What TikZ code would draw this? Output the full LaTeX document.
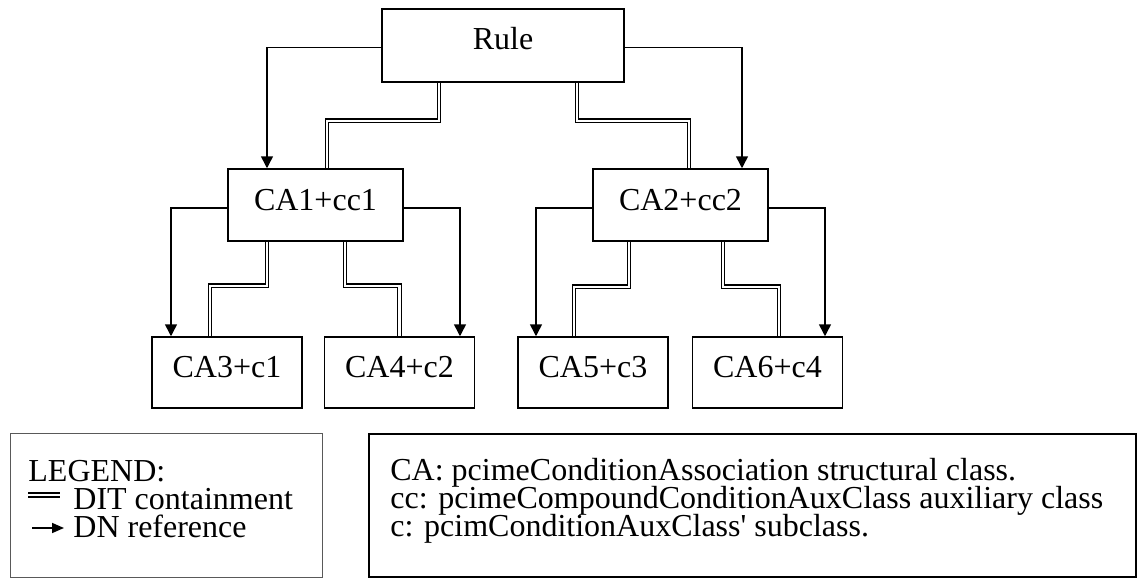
\documentclass[tikz,border=0pt]{standalone}
\usepackage{fontspec}
\setmainfont{Liberation Serif}[Ligatures=TeXOff]
\usetikzlibrary{arrows.meta}

\begin{document}
\begin{tikzpicture}[x=0.5pt,y=-0.5pt,
  every node/.style={font=\fontsize{16}{18}\selectfont},
  box/.style={draw, line width=0.75pt, inner sep=0pt, text height=10pt, text depth=5pt},
  rootbox/.style={box, minimum width=121pt, minimum height=36.5pt, text depth=6pt},
  midbox/.style={box, minimum width=87.5pt, minimum height=36pt},
  leafbox/.style={box, minimum width=75pt, minimum height=35.5pt},
  frame/.style={draw, inner sep=0pt, outer sep=0pt, anchor=north west},
  dn/.style={line width=0.75pt, -{Triangle[width=6pt,length=6pt]}},
  dnkey/.style={line width=0.8pt, -{Triangle[width=5pt,length=6pt]}},
  dit/.style={double, line width=0.65pt, double distance=1.1pt},
  txt/.style={anchor=base west, inner sep=0pt}
]
\useasboundingbox (0,0) rectangle (1137,578);

% class tree
\node[rootbox] (rule) at (503,45.5) {Rule};
\node[midbox]  (ca1)  at (315.5,205) {CA1+cc1};
\node[midbox]  (ca2)  at (680.5,205) {CA2+cc2};
\node[leafbox] (ca3)  at (227,372.5) {CA3+c1};
\node[leafbox] (ca4)  at (399.5,372.5) {CA4+c2};
\node[leafbox] (ca5)  at (593,372.5) {CA5+c3};
\node[leafbox] (ca6)  at (767.5,372.5) {CA6+c4};

% DN references
\draw[dn] ([yshift=-1pt]rule.west) -| ([xshift=-24.25pt]ca1.north);
\draw[dn] ([yshift=-1pt]rule.east) -| ([xshift=30.75pt]ca2.north);
\draw[dn] ([yshift=-1.5pt]ca1.west) -| ([xshift=-28pt]ca3.north);
\draw[dn] ([yshift=-1.5pt]ca1.east) -| ([xshift=30.25pt]ca4.north);
\draw[dn] ([yshift=-1.5pt]ca2.west) -| ([xshift=-28.5pt]ca5.north);
\draw[dn] ([yshift=-1.5pt]ca2.east) -| ([xshift=28.75pt]ca6.north);

% DIT containment
\draw[dit] ([xshift=-32pt]rule.south) -- ++(0,38) -| ([xshift=5.75pt]ca1.north);
\draw[dit] ([xshift=37pt]rule.south) -- ++(0,38) -| ([xshift=4.25pt]ca2.north);
\draw[dit] ([xshift=-24.25pt]ca1.south) -- ++(0,44) -| ([xshift=-8.5pt]ca3.north);
\draw[dit] ([xshift=14.75pt]ca1.south) -- ++(0,44) -| (ca4.north);
\draw[dit] ([xshift=-25.75pt]ca2.south) -- ++(0,45) -| ([xshift=-9.5pt]ca5.north);
\draw[dit] ([xshift=21.25pt]ca2.south) -- ++(0,45) -| ([xshift=5.75pt]ca6.north);

% legend
\node[frame, draw=black!65, line width=0.5pt, minimum width=156pt, minimum height=72pt] (legend) at (10,433) {};
\node[txt] (lgtitle) at (28,481) {LEGEND:};
\node[txt] (lgdit) at (73,509) {DIT containment};
\node[txt] (lgdn) at (73,537) {DN reference};
\coordinate (ditA) at (28,495);
\coordinate (ditB) at (60,495);
\coordinate (dnA) at (32,528);
\coordinate (dnB) at (64,528);
\draw[dit, line width=0.8pt, double distance=1.3pt] (ditA) -- (ditB);
\draw[dnkey] (dnA) -- (dnB);

% abbreviations
\node[frame, line width=0.75pt, minimum width=383.5pt, minimum height=71.5pt] (abbrev) at (369,434) {};
\node[txt] (abCA) at (390,480) {CA: pcimeConditionAssociation structural class.};
\node[txt] (abcc) at (390,508) {cc: pcimeCompoundConditionAuxClass auxiliary class};
\node[txt] (abc)  at (390,536) {c: pcimConditionAuxClass' subclass.};
\end{tikzpicture}
\end{document}
